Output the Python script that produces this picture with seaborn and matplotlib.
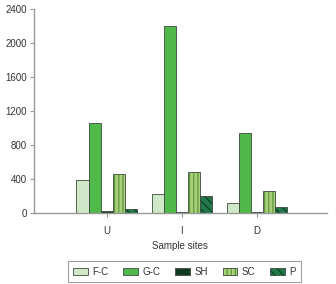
import pandas as pd
import matplotlib
matplotlib.use("Agg")
import matplotlib.pyplot as plt
import matplotlib.colors as mcolors
import seaborn as sns

sites = ["U", "I", "D"]
groups = ["F-C", "G-C", "SH", "SC", "P"]
fc_vals = [390, 225, 120]
gc_vals = [1060, 2200, 940]
sh_vals = [25, 10, 10]
sc_vals = [460, 485, 262]
p_vals = [50, 205, 70]

colors = ["#cfe8c7", "#4fb94a", "#0e3b22", "#a8d07a", "#22784a"]
hatches = ["", "", "", "||||", "\\\\\\\\"]
hatch_colors = [None, None, None, "#5e963e", "#0b4424"]


def style_patch(p, h, hc):
    p.set_hatch(h)
    if hc is not None:
        # hatch colour differs from the outline colour
        p._hatch_color = mcolors.to_rgba(hc)


def main():
    sns.set_style("white")
    plt.rcParams["font.family"] = ["Liberation Sans", "DejaVu Sans"]
    plt.rcParams["hatch.linewidth"] = 0.9
    plt.rcParams["xtick.bottom"] = True
    plt.rcParams["ytick.left"] = True

    rows = []
    for g, vals in zip(groups, [fc_vals, gc_vals, sh_vals, sc_vals, p_vals]):
        for s, v in zip(sites, vals):
            rows.append({"site": s, "group": g, "value": v})
    df = pd.DataFrame(rows)

    fig = plt.figure(figsize=(3.36, 2.84), dpi=100)
    ax = fig.add_axes([0.101, 0.25, 0.872, 0.718])

    sns.barplot(data=df, x="site", y="value", hue="group", order=sites,
                hue_order=groups, palette=colors, width=0.81, saturation=1,
                edgecolor="#3c4a3c", linewidth=0.6, ax=ax, legend=False)

    for cont, h, hc in zip(ax.containers, hatches, hatch_colors):
        for bar in cont:
            style_patch(bar, h, hc)

    ax.set_xlim(-0.97, 2.93)
    ax.set_ylim(0, 2400)
    ax.set_yticks(range(0, 2401, 400))
    ax.set_xlabel("Sample sites", fontsize=7, color="#333333", labelpad=4)
    ax.set_ylabel("")
    ax.tick_params(axis="both", labelsize=7, colors="#333333", length=3,
                   width=0.8, color="#999999", pad=2, direction="out")
    ax.tick_params(axis="x", pad=6)
    sns.despine(ax=ax)
    for side in ["left", "bottom"]:
        ax.spines[side].set_color("#999999")
        ax.spines[side].set_linewidth(1.0)

    handles = []
    for c, h, hc in zip(colors, hatches, hatch_colors):
        r = plt.Rectangle((0, 0), 1, 1, facecolor=c, edgecolor="#3c4a3c", linewidth=0.6)
        style_patch(r, h, hc)
        handles.append(r)
    leg = fig.legend(handles, groups, loc="center", bbox_to_anchor=(0.549, 0.043),
                     ncol=5, fontsize=7, frameon=True, fancybox=False,
                     handlelength=1.5, handleheight=0.7, handletextpad=0.5,
                     columnspacing=1.5, borderpad=0.55)
    leg.get_frame().set_edgecolor("#888888")
    leg.get_frame().set_linewidth(0.8)
    for t in leg.get_texts():
        t.set_color("#333333")

    fig.savefig("out.png", dpi=100)
    plt.close(fig)


if __name__ == "__main__":
    main()
